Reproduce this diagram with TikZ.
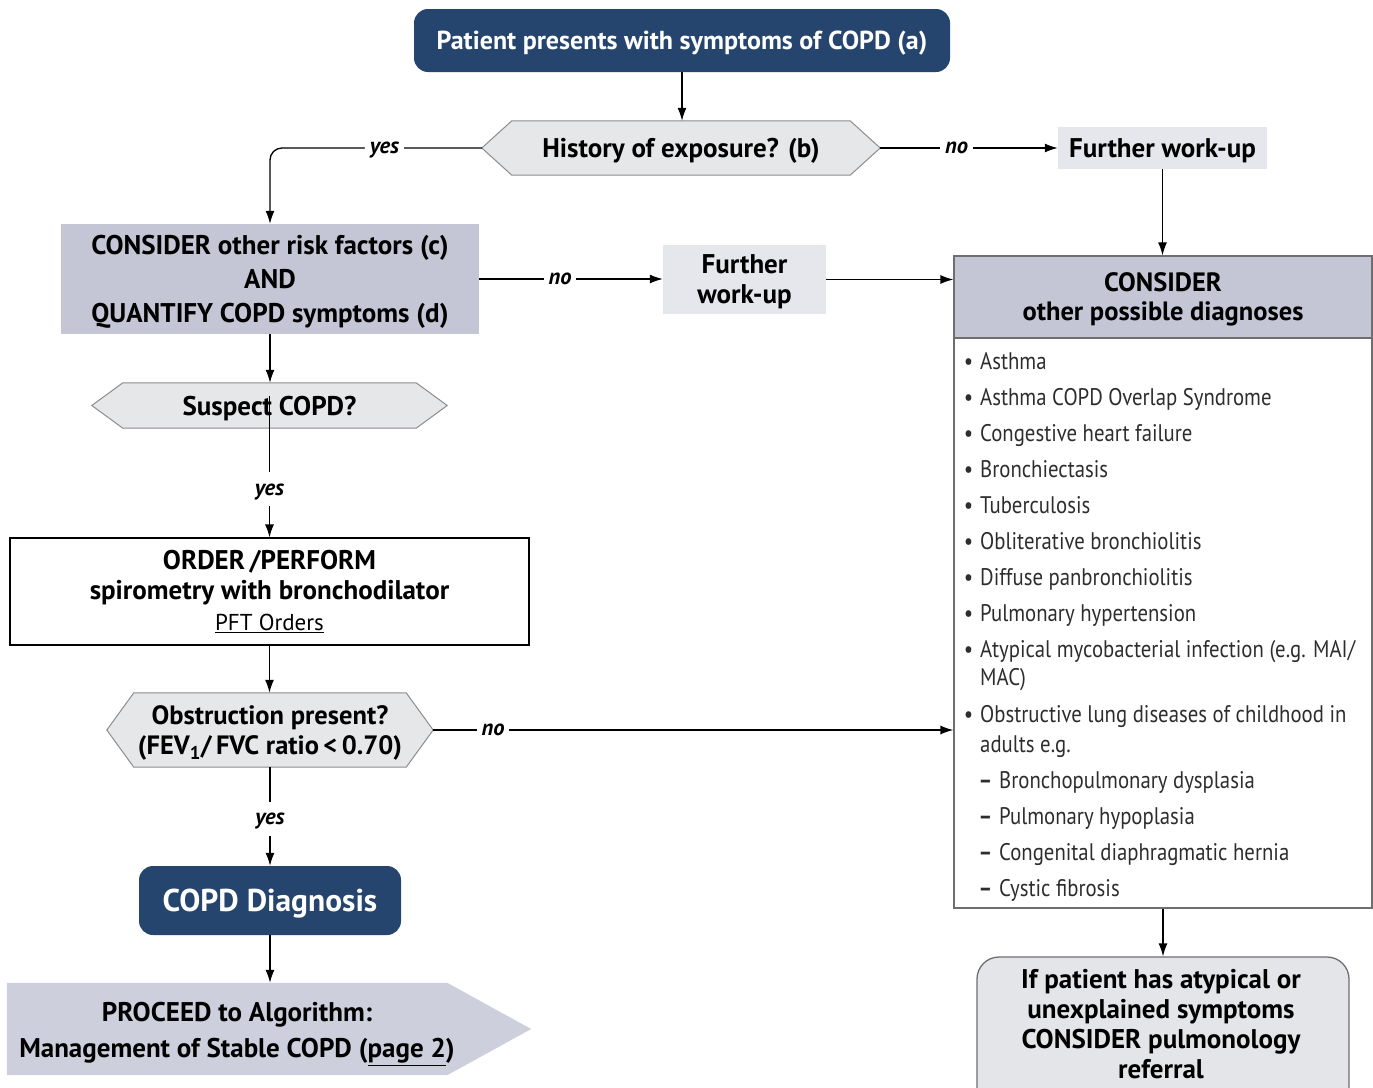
\documentclass[tikz,border=0pt]{standalone}
\usepackage{fontspec}
\setmainfont{PT Sans}
\newfontfamily\listfont{PT Sans}[FakeStretch=0.865]
\usetikzlibrary{arrows.meta,backgrounds}
\definecolor{navy}{RGB}{37,69,110}
\definecolor{lav}{RGB}{196,198,214}
\definecolor{hexfill}{RGB}{230,231,233}
\definecolor{hexline}{RGB}{140,140,140}
\definecolor{fwfill}{RGB}{230,231,236}
\definecolor{procfill}{RGB}{205,207,221}
\definecolor{reffill}{RGB}{228,229,233}
\definecolor{boxline}{RGB}{110,110,110}
\definecolor{itemtext}{RGB}{45,45,45}
\newcommand\fs[2]{\fontsize{#1}{#2}\selectfont}
\newcommand\bul{\llap{•\hspace{7pt}}}
\newcommand\dsh{\llap{\textbf{–}\hspace{7pt}}}
\begin{document}
\begin{tikzpicture}[x=1pt,y=-1pt,
  conn/.style={draw=black, line width=1.3pt, -{Latex[length=13pt,width=9pt]}},
  lab/.style={fill=white, inner xsep=5pt, inner ysep=11pt, text depth=0pt, font=\bfseries\itshape\fs{22.5}{26}},
  darkbox/.style={fill=navy, rounded corners=14pt, text=white, inner sep=0pt, align=center, text depth=0pt},
  hexnode/.style={inner sep=0pt, align=center, text depth=0pt},
  hexshape/.style={fill=hexfill, draw=hexline, line width=1pt},
  fwbox/.style={fill=fwfill, inner sep=0pt, align=center, text depth=0pt},
  lavbox/.style={fill=lav, inner sep=0pt, align=center, text depth=0pt},
  item/.style={anchor=base west, inner sep=0pt, text=itemtext, font=\listfont\fs{24}{28}}]
\useasboundingbox (0,0) rectangle (1373,1087);

% nodes
\node[darkbox, minimum width=536, minimum height=63, font=\bfseries\fs{26}{30}] (start) at (682,40.5) {Patient presents with symptoms of COPD (a)};
\node[hexnode, minimum width=398, minimum height=54, font=\bfseries\fs{27}{32}] (hist) at (681,148) {History of exposure? (b)};
\node[fwbox, minimum width=209, minimum height=42, font=\bfseries\fs{27}{30}] (fw1) at (1162.5,148) {Further work-up};
\node[lavbox, minimum width=418, minimum height=110, font=\bfseries\fs{27}{34}] (risk) at (270,279) {CONSIDER other risk factors (c)\\AND\\QUANTIFY COPD symptoms (d)};
\node[fwbox, minimum width=163, minimum height=69, font=\bfseries\fs{27}{30}] (fw2) at (744.5,279.5) {Further\\work-up};
\node[draw=boxline, line width=1.2pt, minimum width=418, minimum height=652, inner sep=0pt] (dx) at (1163,582) {};
\node[lavbox, draw=boxline, line width=1.2pt, minimum width=418, minimum height=82, font=\bfseries\fs{26.5}{29}] (dxh) at (1163,297) {CONSIDER\\other possible diagnoses};
\node[hexnode, minimum width=355, minimum height=45, font=\bfseries\fs{27}{30}] (susp) at (269.5,405.5) {Suspect COPD?};
\node[draw=black, line width=1.2pt, minimum width=519, minimum height=107, inner sep=0pt, align=center, font=\bfseries\fs{27}{30}] (order) at (269.5,591.5) {ORDER\,/PERFORM\\spirometry with bronchodilator\\[1pt]{\mdseries\fs{23}{28}\underline{PFT Orders}}};
\node[hexnode, minimum width=326, minimum height=74, font=\bfseries\fs{26.5}{30}] (obs) at (270,730) {Obstruction present?\\(FEV\textsubscript{1}/\,FVC ratio\,<\,0.70)};
\node[darkbox, minimum width=262, minimum height=69, font=\bfseries\fs{31.5}{36}] (copd) at (270,900.5) {COPD Diagnosis};
\node[inner sep=0pt, minimum width=524, minimum height=92] (proc) at (269,1029) {};
\node[align=center, inner sep=0pt, font=\bfseries\fs{27}{36}] (proctext) at (237,1034) {PROCEED to Algorithm:\\Management of Stable COPD (\underline{page 2})};
\node[draw=boxline, line width=1.3pt, fill=reffill, rounded corners=22pt, minimum width=372, minimum height=170, inner sep=0pt] (refer) at (1163,1042) {};
\node[align=center, inner sep=0pt, font=\bfseries\fs{27}{30}] (refertext) at (1161,1024) {If patient has atypical or\\unexplained symptoms\\CONSIDER pulmonology\\referral};

% list
\node[item] (a1) at (980,369) {\bul Asthma};
\node[item] (a2) at (980,405) {\bul Asthma COPD Overlap Syndrome};
\node[item] (a3) at (980,441) {\bul Congestive heart failure};
\node[item] (a4) at (980,477) {\bul Bronchiectasis};
\node[item] (a5) at (980,513) {\bul Tuberculosis};
\node[item] (a6) at (980,549) {\bul Obliterative bronchiolitis};
\node[item] (a7) at (980,585) {\bul Diffuse panbronchiolitis};
\node[item] (a8) at (980,621) {\bul Pulmonary hypertension};
\node[item] (a9) at (980,657) {\bul Atypical mycobacterial infection (e.g. MAI/};
\node[item] (a9b) at (980,685) {MAC)};
\node[item] (a10) at (980,722) {\bul Obstructive lung diseases of childhood in};
\node[item] (a10b) at (980,752) {adults e.g.};
\node[item] (d1) at (999,788) {\dsh Bronchopulmonary dysplasia};
\node[item] (d2) at (999,824) {\dsh Pulmonary hypoplasia};
\node[item] (d3) at (999,860) {\dsh Congenital diaphragmatic hernia};
\node[item] (d4) at (999,896) {\dsh Cystic fibrosis};

% shapes behind
\begin{scope}[on background layer]
\foreach \n/\d in {hist/30, susp/31, obs/27}{
  \path[hexshape] (\n.west) -- ([xshift=\d pt]\n.north west) -- ([xshift=-\d pt]\n.north east) -- (\n.east) -- ([xshift=-\d pt]\n.south east) -- ([xshift=\d pt]\n.south west) -- cycle;
}
\fill[procfill] (proc.north west) -- ([xshift=-84pt]proc.north east) -- (proc.east) -- ([xshift=-84pt]proc.south east) -- (proc.south west) -- cycle;
\end{scope}

% connectors
\draw[conn] (start.south) -- (start.south |- hist.north);
\draw[conn, rounded corners=12pt] (hist.west) -| node[lab, pos=0.23]{yes} (risk.north);
\draw[conn] (hist.east) -- node[lab, pos=0.43]{no} (fw1.west);
\draw[conn] (fw1.south) -- (fw1.south |- dxh.north);
\draw[conn] (risk.east) -- node[lab, pos=0.44]{no} (risk.east -| fw2.west);
\draw[conn] (fw2.east) -- (fw2.east -| dx.west);
\draw[conn] (risk.south) -- (risk.south |- susp.north);
\draw[conn] ([yshift=-13pt]susp.north) -- node[lab, pos=0.66]{yes} (order.north);
\draw[conn] (order.south) -- (order.south |- obs.north);
\draw[conn] (obs.east) -- node[lab, pos=0.115]{no} (obs.east -| dx.west);
\draw[conn] (obs.south) -- node[lab, pos=0.525]{yes} (copd.north);
\draw[conn] (copd.south) -- (copd.south |- proc.north);
\draw[conn] (dx.south) -- (refer.north);
\end{tikzpicture}
\end{document}
